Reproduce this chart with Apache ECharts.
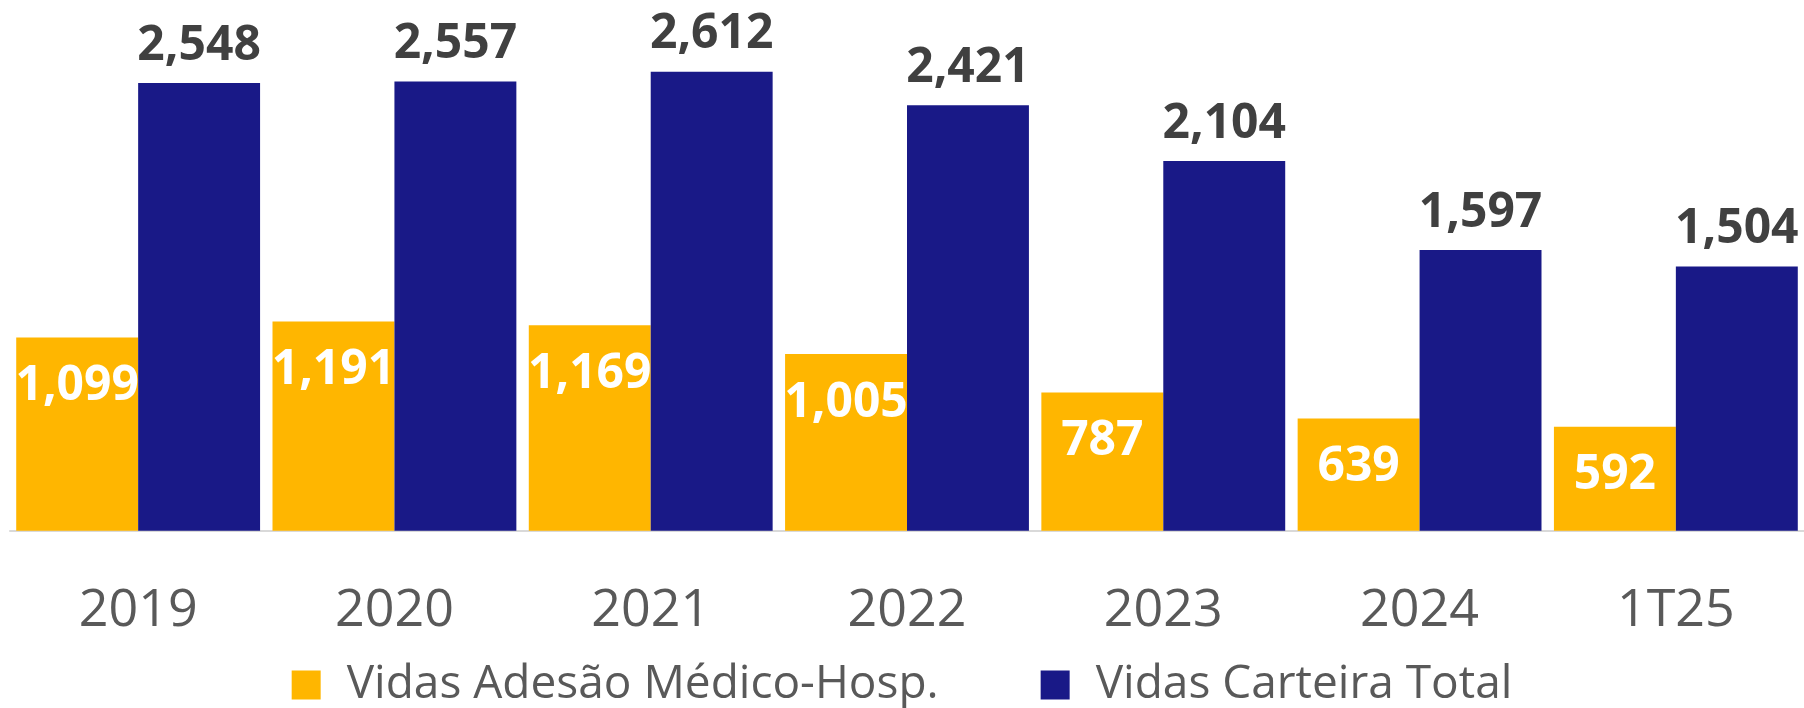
<!DOCTYPE html>
<html>
<head>
<meta charset="utf-8">
<script src="https://cdn.jsdelivr.net/npm/echarts@6/dist/echarts.min.js"></script>
<style>
  html, body { margin: 0; padding: 0; background: #fff; }
  #main { width: 1804px; height: 708px; }
</style>
</head>
<body>
<div id="main"></div>
<script>
// categorias e valores (milhares de vidas)
var periodos = ['2019', '2020', '2021', '2022', '2023', '2024', '1T25'];
var vidasAdesao = [1099, 1191, 1169, 1005, 787, 639, 592];
var vidasCarteira = [2548, 2557, 2612, 2421, 2104, 1597, 1504];
var nomes = ['Vidas Adesão Médico-Hosp.', 'Vidas Carteira Total'];

var chart = echarts.init(document.getElementById('main'));

function fmt(p) {
  return p.value.toLocaleString('en-US');
}

var option = {
  animation: false,
  textStyle: { fontFamily: 'Open Sans' },
  grid: {
    left: 10,
    right: 0,
    top: 3.6,
    bottom: 177.3,
    containLabel: false
  },
  legend: {
    left: 'center',
    top: 657,
    itemWidth: 29,
    itemHeight: 29,
    itemGap: 102,
    icon: 'rect',
    textStyle: {
      fontFamily: 'Open Sans',
      fontSize: 46,
      color: '#595959',
      padding: [0, 0, 0, 21]
    },
    data: nomes
  },
  xAxis: {
    type: 'category',
    data: periodos,
    axisLine: { lineStyle: { color: '#D9D9D9', width: 2 } },
    axisTick: { show: false },
    axisLabel: {
      fontFamily: 'Open Sans',
      fontSize: 52,
      color: '#595959',
      margin: 54
    }
  },
  yAxis: {
    type: 'value',
    min: 0,
    max: 3000,
    show: false,
    splitLine: { show: false }
  },
  series: [
    {
      name: nomes[0],
      type: 'bar',
      data: vidasAdesao,
      barGap: '0%',
      barCategoryGap: '4.85%',
      itemStyle: { color: '#FFB600' },
      label: {
        show: true,
        position: 'insideTop',
        distance: 25,
        formatter: fmt,
        fontFamily: 'Open Sans',
        fontWeight: 'bold',
        fontSize: 48,
        color: '#FFFFFF'
      }
    },
    {
      name: nomes[1],
      type: 'bar',
      data: vidasCarteira,
      barGap: '0%',
      barCategoryGap: '4.85%',
      itemStyle: { color: '#191987' },
      label: {
        show: true,
        position: 'top',
        distance: 13,
        formatter: fmt,
        fontFamily: 'Open Sans',
        fontWeight: 'bold',
        fontSize: 48,
        color: '#404040'
      }
    }
  ]
};

chart.setOption(option);
</script>
</body>
</html>
